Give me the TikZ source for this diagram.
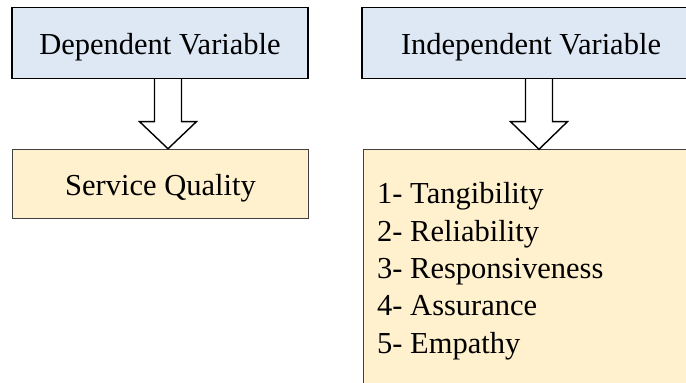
\documentclass[tikz,border=0pt]{standalone}
\usepackage{fontspec}
\setmainfont{Liberation Serif}
\usetikzlibrary{calc}
\definecolor{boxblue}{HTML}{DEE8F5}
\definecolor{boxyellow}{HTML}{FFF1CD}
\definecolor{boxedge}{HTML}{404040}
\begin{document}
\begin{tikzpicture}[x=1pt,y=-1pt,
  headbox/.style={draw=black,line width=1.6pt,fill=boxblue,rectangle,inner sep=0pt,
    text height=24pt,text depth=0pt,font=\fontsize{30.5}{37.3}\selectfont},
  valbox/.style={draw=boxedge,line width=1.1pt,fill=boxyellow,rectangle,inner sep=0pt,
    text height=23pt,text depth=0pt,font=\fontsize{30.5}{37.3}\selectfont},
  blockarrow/.style={draw=black,line width=1.4pt,fill=white,line join=miter}
]
\useasboundingbox (0,0) rectangle (686,383);
\fill[white] (0,0) rectangle (686,383);
\begin{scope}
\clip (0,0) rectangle (686,383);
% left column
\node[headbox,minimum width=296pt,minimum height=71pt] (dv) at (160,42.8) {Dependent Variable};
\node[valbox,minimum width=296pt,minimum height=69pt] (sq) at (160.5,183.8) {Service Quality};
% right column
\node[headbox,minimum width=338pt,minimum height=71pt] (iv) at (531,42.8) {Independent Variable};
\node[valbox,anchor=north west,minimum width=340pt,minimum height=260pt] (dims) at (362.5,149.3) {};
\node[anchor=base west,align=left,inner sep=0pt,font=\fontsize{30.5}{37.3}\selectfont] (list) at (377,353)
  {1- Tangibility\\2- Reliability\\3- Responsiveness\\4- Assurance\\5- Empathy};
% block arrows
\coordinate (a1) at ($(dv.south)+(8,0)$);
\draw[blockarrow] ($(a1)+(-13.5,0)$) -- ($(a1)+(-13.5,42.5)$) -- ($(a1)+(-28.5,42.5)$)
  -- ($(sq.north)+(7.5,0)$) -- ($(a1)+(28.5,42.5)$) -- ($(a1)+(13.5,42.5)$) -- ($(a1)+(13.5,0)$);
\coordinate (a2) at ($(iv.south)+(8,0)$);
\draw[blockarrow] ($(a2)+(-13.5,0)$) -- ($(a2)+(-13.5,42.5)$) -- ($(a2)+(-28.5,42.5)$)
  -- (a2 |- dims.north) -- ($(a2)+(28.5,42.5)$) -- ($(a2)+(13.5,42.5)$) -- ($(a2)+(13.5,0)$);
\end{scope}
\end{tikzpicture}
\end{document}
